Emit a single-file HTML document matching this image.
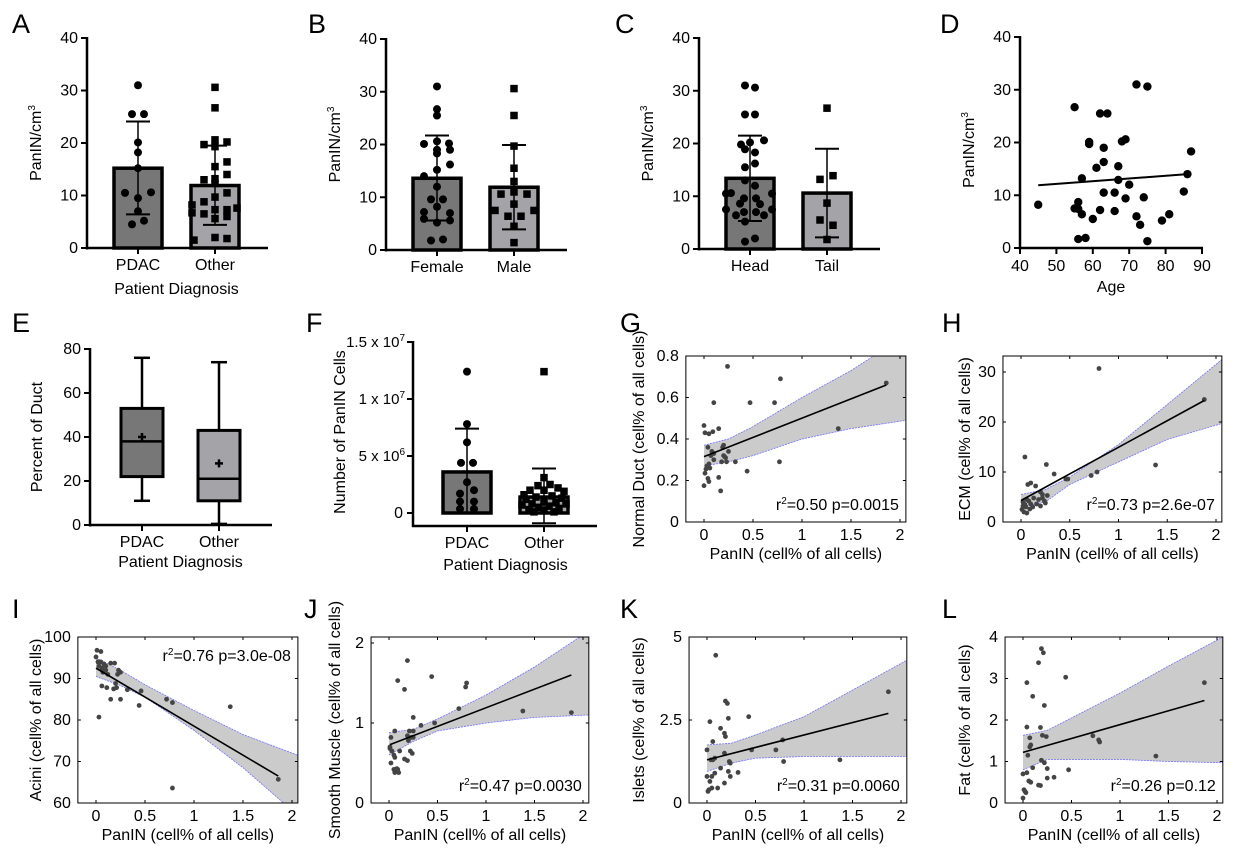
<!DOCTYPE html>
<html><head><meta charset="utf-8"><style>
html,body{margin:0;padding:0;background:#fff;}
svg{display:block;font-family:"Liberation Sans",Arial,sans-serif;}
</style></head><body>
<svg id="fig" width="1236" height="853" viewBox="0 0 1236 853"></svg>
<script>
// ---------- DATA ----------
const A_cats=['PDAC','Other'];
const A_means=[15.2,11.9], A_sdHi=[24.1,19.5], A_sdLo=[6.4,4.4];
const A_g0=[31,25.5,25.5,20.1,18.2,15.2,10.5,10.6,9.5,7,4.5,5.2];
const A_j0=[0,-6,6,0,0,0,-13,13,0,0,-6,6];
const A_g1=[30.6,26.7,20.6,20.2,19.7,19.3,15.5,16.4,14,13,13.2,12.3,10.5,9.7,8.8,8.2,7.6,7.3,7.3,6.7,6.5,5.6,6,1.5,2,1.8];
const A_j1=[0,0,0,12,-11,0,0,12,12,-11,0,0,12,0,-11,-23,22,0,12,-23,-11,0,12,-21,0,12];
const B_cats=['Female','Male'];
const B_means=[13.6,11.9], B_sdHi=[21.7,19.9], B_sdLo=[5.6,3.9];
const B_g0=[31,26.7,25.5,20.6,20.1,20.2,19,19,18.3,16.2,15.2,14,12,9.6,9.6,8.2,7.2,7,5.9,5.6,5.2,1.8,2];
const B_j0=[0,0,0,0,-13,12,13,0,0,13,0,-13,0,-6,6,0,-13,13,-13,13,0,-6,6];
const B_g1=[30.6,25.5,19.7,15.5,13,11,10.6,10.6,8.7,7.5,7.5,6.4,6.4,4.5,1.4];
const B_j1=[0,0,0,0,0,0,-13,13,0,-19,20,-6,7,0,0];
const C_cats=['Head','Tail'];
const C_means=[13.4,10.6], C_sdHi=[21.5,19], C_sdLo=[5.3,2.2];
const C_g0=[31,30.6,25.5,25.5,20.6,20.2,19.8,18.9,18.3,16.2,15.5,13,12,10.6,10.5,10.5,9.6,9.6,8.6,8.5,7.5,7.5,7,7,6.4,6.4,5.2,2,1.4];
const C_j0=[-5,5,-5,5,14,0,-9,-5,5,5,-5,-5,5,-19,-24,22,-6,6,-10,10,-24,22,-6,6,-14,14,-5,5,-5];
const C_g1=[26.7,13.9,13.2,8.7,5.5,4.5,1.8];
const C_j1=[0,6,-7,0,-7,6,0];
const D_age=[45,55,55,56,56,56,57,57,58,59,59,60,61,62,62,63,63,63,64,66,66,67,67,68,69,69,70,72,72,73,74,75,75,79,81,85,86,87];
const D_val=[8.2,26.7,7.5,7.4,8.7,1.7,13.2,6.4,1.9,20.1,19.7,5.5,15.2,25.5,7.2,19,16.3,10.5,25.5,10.5,7,15.5,12.9,20.2,20.6,9.4,12,31,6,4.4,9.6,30.6,1.3,5.2,6.4,10.7,14,18.3];
const D_fitX=[45,86], D_fitY=[11.9,14];
const E_cats=['PDAC','Other'];
const E_min=[11,0.5], E_q1=[22,11], E_med=[38,21], E_q3=[53,43], E_max=[76,74], E_mean=[40,28];
const F_cats=['PDAC','Other'];
const F_means=[3.6e6,1.4e6], F_sdHi=[7.4e6,3.9e6], F_sdLo=[0,-0.9e6];
const F_g0=[12.4e6,7.8e6,6.2e6,4.4e6,4.4e6,2.7e6,1.7e6,2e6,1.0e6,1.0e6,0.35e6,0.35e6];
const F_j0=[0,0,0,-6,6,0,-7,7,-7,7,-7,7];
const F_g1=[12.4e6,3.1e6,2.5e6,2.4e6,2.2e6,2.0e6,2.0e6,1.9e6,1.6e6,1.5e6,1.4e6,1.3e6,1.2e6,1.0e6,0.9e6,0.8e6,0.8e6,0.7e6,0.6e6,0.5e6,0.4e6,0.3e6,0.2e6,0.1e6,0.1e6];
const F_j1=[0,0,6,-6,14,-14,0,20,-20,8,-8,18,-18,0,12,-12,22,-22,5,-5,15,-15,0,10,-10];
const CI_x=[0,0.25,0.5,1,1.5,2.06];
const G_x=[0,0.01,0.05,0.09,0.15,0.1,0.24,0.47,0.72,0.78,1.37,1.86,0.04,0.08,0.2,0.19,0.25,0.2,0.22,0.07,0.05,0.03,0.06,0.02,0.1,0.18,0.23,0.32,0.77,0.44,0.01,0.04,0.05,0.15,0.17,0,0.1,0.21];
const G_y=[0.465,0.43,0.425,0.435,0.45,0.575,0.75,0.575,0.575,0.69,0.45,0.67,0.36,0.34,0.37,0.36,0.34,0.32,0.31,0.32,0.28,0.27,0.26,0.255,0.3,0.29,0.29,0.29,0.29,0.245,0.235,0.21,0.195,0.215,0.15,0.175,0.33,0.315];
const G_fitX=[0,1.86], G_fitY=[0.315,0.66];
const G_up=[0.37,0.40,0.46,0.6,0.73,0.9], G_lo=[0.27,0.29,0.32,0.40,0.45,0.49];
const H_x=[0.04,0.26,0.34,0.8,1.38,1.88,0.72,0.78,0.46,0.48,0.07,0.1,0.15,0.2,0.22,0.27,0.02,0.04,0.06,0.08,0.1,0.12,0.16,0.2,0.25,0.01,0.03,0.06,0.09,0.18,0.24,0.05,0.02,0.13,0.22];
const H_y=[13,11.5,9.6,30.7,11.4,24.5,9.3,10,8.6,8.6,7.5,7.8,7.2,6,5.5,5.3,4,3.5,4.5,4.2,3.6,3,3.6,3.2,3.8,2.5,2,1.8,2.6,4.5,4.2,3,3.2,4.8,4.8];
const H_fitX=[0,1.88], H_fitY=[4.3,24.3];
const H_up=[5.5,6.5,9,15.5,23.5,32.5], H_lo=[3,4,7.5,12,16.5,19.7];
const I_x=[0.01,0.05,0,0.02,0.05,0.08,0.1,0.15,0.19,0.03,0.06,0.1,0.12,0.22,0.23,0.25,0.07,0.2,0.06,0.11,0.18,0.21,0.32,0.46,0.15,0.25,0.44,0.72,0.78,1.37,0.03,0.78,1.86];
const I_y=[96.8,96.5,95.2,94,94,93.5,93,93.7,93.7,93,92.5,92,91,91,92,91.5,91.5,88.8,88.2,87.8,87.5,87.8,87.3,87,85,85,83.5,85,84.2,83.2,80.7,63.6,65.7];
const I_fitX=[0,1.86], I_fitY=[92.5,66.5];
const I_up=[95,92,88.5,82.3,76.5,71.5], I_lo=[90.5,88.3,85.5,77.5,68.5,57];
const J_x=[0.19,0.09,0.16,0.44,0.8,0.79,0.72,1.38,1.88,0.25,0.33,0.47,0.21,0.25,0.06,0.02,0.19,0.2,0.25,0.23,0.01,0.01,0.03,0.11,0.22,0.24,0.05,0.06,0.16,0.19,0.02,0.05,0.07,0.09,0.06,0.1,0.08];
const J_y=[1.78,1.53,1.42,1.58,1.5,1.45,1.18,1.15,1.13,1.07,0.97,1.0,0.9,0.9,0.9,0.82,0.84,0.78,0.82,0.82,0.7,0.68,0.65,0.65,0.65,0.62,0.6,0.57,0.55,0.53,0.5,0.42,0.4,0.42,0.38,0.38,0.43];
const J_fitX=[0.01,1.88], J_fitY=[0.73,1.6];
const J_up=[0.88,0.92,1.05,1.35,1.7,2.15], J_lo=[0.6,0.77,0.9,1.0,1.07,1.1];
const K_x=[0.09,0.19,0.21,1.87,0.43,0.22,0.03,0.14,0.18,0.19,0.78,0.06,0,0.46,0.71,0.18,0.04,0.06,0.08,1.37,0.79,0.23,0.24,0.14,0.08,0.22,0.32,0,0.05,0.24,0.03,0.18,0.05,0.11,0.01,0.02];
const K_y=[4.45,3.07,3.0,3.35,2.6,2.55,2.45,2.25,2.1,2.0,1.9,1.85,1.6,1.6,1.6,1.5,1.3,1.3,1.35,1.3,1.25,1.25,1.2,1.05,0.9,0.95,0.92,0.8,0.8,0.8,0.65,0.6,0.45,0.45,0.35,0.4];
const K_fitX=[0,1.87], K_fitY=[1.3,2.7];
const K_up=[1.75,1.8,2.05,2.6,3.4,4.3], K_lo=[0.95,1.2,1.35,1.4,1.4,1.4];
const L_x=[0.19,0.21,0.16,0.44,0.04,1.87,0.1,0.22,0.04,0.18,0.2,0.24,0.72,0.78,0.79,0.07,0.08,0.07,0.05,1.37,0.19,0.22,0.1,0.25,0.47,0.04,0,0.25,0.32,0.06,0.08,0.16,0.18,0.01,0.02,0.03,0];
const L_y=[3.72,3.62,3.38,3.03,2.9,2.9,2.57,2.35,1.83,1.82,1.63,1.6,1.62,1.52,1.47,1.57,1.4,1.35,1.15,1.13,1.03,0.97,0.85,0.83,0.8,0.73,0.7,0.6,0.62,0.53,0.5,0.43,0.42,0.32,0.28,0.25,0.12];
const L_fitX=[0,1.87], L_fitY=[1.22,2.47];
const L_up=[1.63,1.75,2.05,2.65,3.3,4.0], L_lo=[0.8,1.05,1.05,1.05,1.0,0.97];

// ---------- HELPERS ----------
const svg=document.getElementById('fig');
const NS=svg.namespaceURI;
function el(tag,parent){const e=document.createElementNS(NS,tag);parent.appendChild(e);return e;}
function set(e,o){for(const k in o)e.setAttribute(k,o[k]);return e;}
function lin(d0,d1,r0,r1){return v=>r0+(v-d0)*(r1-r0)/(d1-d0);}
function line(p,x1,y1,x2,y2,w,name){const l=el('line',p);set(l,{x1:x1,y1:y1,x2:x2,y2:y2,stroke:'#000','stroke-width':w});


return l;}
function text(p,x,y,s,size,anchor,name,rot){const t=el('text',p);set(t,{x:x,y:y,'font-size':size,'text-anchor':anchor||'middle',fill:'#000'});
if(rot)t.setAttribute('transform','rotate(-90 '+x+' '+y+')');
t.textContent=s;


return t;}
function letter(x,y,s){text(svg,x,y,s,27,'start','panel-label-'+s.toLowerCase());}
function group(name){const g=el('g',svg);


return g;}
function dot(p,x,y,r,fill,name){const c=el('circle',p);set(c,{cx:x,cy:y,r:r,fill:fill});


return c;}
function sq(p,x,y,s,name){const r=el('rect',p);set(r,{x:x-s/2,y:y-s/2,width:s,height:s,fill:'#000'});


return r;}
function supLabel(p,x,y,base,exp,name){const t=el('text',p);set(t,{x:x,y:y,'font-size':15,'text-anchor':'end'});
const a=el('tspan',t);a.textContent=base;
const b=el('tspan',t);set(b,{'font-size':10,dy:-6});b.textContent=exp;

}

// GraphPad-style y axis
function gpYAxis(g,ax,ytop,ybot,sc,ticks,labels,name){
  line(g,ax,ytop-1,ax,ybot+1.5,2.5,name+'-y-axis');
  ticks.forEach((v,i)=>{const y=sc(v);line(g,ax-6,y,ax,y,2,name+'-y-tick');
    if(labels)text(g,ax-9,y+5,labels[i],16,'end',name+'-y-tick-label');});
}

function barPanel(name,ax,xEnd,y0,y40,cats,means,hi,lo,g0,j0,g1,j1,ymax,ticks,ylabel,xlabel,labY){
  const g=group('panel-'+name);
  const ys=lin(0,ymax,y0,y40);
  const cx=[ax+51,ax+128];
  const fills=['#777777','#a4a4a8'];
  means.forEach((m,i)=>{const r=el('rect',g);set(r,{x:cx[i]-24,y:ys(m),width:48,height:y0-ys(m),fill:fills[i],stroke:'#000','stroke-width':3.5});
    
    });
  [[g0,j0,0],[g1,j1,1]].forEach(([vals,jit,i])=>{vals.forEach((v,k)=>{
    if(i===0)dot(g,cx[i]+jit[k],ys(v),4,'#000','point-'+cats[i].toLowerCase());
    else sq(g,cx[i]+jit[k],ys(v),7.5,'point-'+cats[i].toLowerCase());});});
  means.forEach((m,i)=>{line(g,cx[i],ys(hi[i]),cx[i],ys(lo[i]),1.5,'error-bar');
    line(g,cx[i]-12,ys(hi[i]),cx[i]+12,ys(hi[i]),2,'error-cap-upper');
    line(g,cx[i]-12,ys(lo[i]),cx[i]+12,ys(lo[i]),2,'error-cap-lower');});
  gpYAxis(g,ax,y40,y0,ys,ticks,ticks.map(String),name);
  line(g,ax-1,y0,xEnd,y0,2.5,name+'-x-axis');
  cats.forEach((c,i)=>{line(g,cx[i],y0,cx[i],y0+6,2,'x-tick');text(g,cx[i],y0+22,c,16,'middle','x-tick-label-'+c.toLowerCase());});
  text(g,ax-46,150,'',16,'middle','y-axis-title',true);
  const yt=el('text',g);set(yt,{x:ax-46,y:(y0+y40)/2,'font-size':16,'text-anchor':'middle',transform:'rotate(-90 '+(ax-46)+' '+((y0+y40)/2)+')'});
  const t1=el('tspan',yt);t1.textContent='PanIN/cm';const t2=el('tspan',yt);set(t2,{'font-size':10,dy:-6});t2.textContent='3';
  
  
  if(xlabel)text(g,(cx[0]+cx[1])/2,labY,xlabel,16,'middle','x-axis-title');
}

// ---------- ROW 1 ----------
letter(12,33,'A');letter(308,33,'B');letter(615,33,'C');letter(940,33,'D');
barPanel('a',87,268,248,38,A_cats,A_means,A_sdHi,A_sdLo,A_g0,A_j0,A_g1,A_j1,40,[0,10,20,30,40],'', 'Patient Diagnosis',294);
barPanel('b',386,567,250,39,B_cats,B_means,B_sdHi,B_sdLo,B_g0,B_j0,B_g1,B_j1,40,[0,10,20,30,40],'',null,0);
barPanel('c',699,880,249,38,C_cats,C_means,C_sdHi,C_sdLo,C_g0,C_j0,C_g1,C_j1,40,[0,10,20,30,40],'',null,0);

// Panel D
(function(){
  const g=group('panel-d');const ax=1020,y0=248,ytop=37;
  const xs=lin(40,90,ax,1202), ys=lin(0,40,y0,ytop);
  gpYAxis(g,ax,ytop,y0,ys,[0,10,20,30,40],['0','10','20','30','40'],'d');
  line(g,ax-1,y0,1203,y0,2.5,'d-x-axis');
  [40,50,60,70,80,90].forEach(v=>{line(g,xs(v),y0,xs(v),y0+6,2,'x-tick');text(g,xs(v),y0+23,String(v),16,'middle','x-tick-label');});
  D_age.forEach((a,i)=>dot(g,xs(a),ys(D_val[i]),4.2,'#000','point-patient'));
  line(g,xs(D_fitX[0]),ys(D_fitY[0]),xs(D_fitX[1]),ys(D_fitY[1]),2,'regression-line');
  text(g,(ax+1202)/2,292,'Age',16,'middle','x-axis-title');
  const yt=el('text',g);set(yt,{x:974,y:150,'font-size':16,'text-anchor':'middle',transform:'rotate(-90 974 150)'});
  const t1=el('tspan',yt);t1.textContent='PanIN/cm';const t2=el('tspan',yt);set(t2,{'font-size':10,dy:-6});t2.textContent='3';
  
  
})();

// ---------- ROW 2 ----------
letter(12,332,'E');letter(306,332,'F');letter(620,332,'G');letter(942,332,'H');
// Panel E
(function(){
  const g=group('panel-e');const ax=90,y0=525,ytop=349;
  const ys=lin(0,80,y0,ytop);const cx=[ax+52,ax+129];const fills=['#777777','#a4a4a8'];
  gpYAxis(g,ax,ytop,y0,ys,[0,20,40,60,80],['0','20','40','60','80'],'e');
  line(g,ax-1,y0,272,y0,2.5,'e-x-axis');
  E_cats.forEach((c,i)=>{
    line(g,cx[i],ys(E_max[i]),cx[i],ys(E_q3[i]),2.5,'whisker-upper');
    line(g,cx[i],ys(E_q1[i]),cx[i],ys(E_min[i]),2.5,'whisker-lower');
    line(g,cx[i]-8,ys(E_max[i]),cx[i]+8,ys(E_max[i]),2.5,'whisker-cap');
    line(g,cx[i]-8,ys(E_min[i]),cx[i]+8,ys(E_min[i]),2.5,'whisker-cap');
    const r=el('rect',g);set(r,{x:cx[i]-21,y:ys(E_q3[i]),width:42,height:ys(E_q1[i])-ys(E_q3[i]),fill:fills[i],stroke:'#000','stroke-width':3});
    
    
    line(g,cx[i]-21,ys(E_med[i]),cx[i]+21,ys(E_med[i]),2.5,'median-line');
    line(g,cx[i]-4,ys(E_mean[i]),cx[i]+4,ys(E_mean[i]),2.5,'mean-marker');
    line(g,cx[i],ys(E_mean[i])-4,cx[i],ys(E_mean[i])+4,2.5,'mean-marker');
    line(g,cx[i],y0,cx[i],y0+6,2,'x-tick');
    text(g,cx[i],y0+22,c,16,'middle','x-tick-label');
  });
  text(g,(cx[0]+cx[1])/2,567,'Patient Diagnosis',16,'middle','x-axis-title');
  text(g,42,437,'Percent of Duct',16,'middle','y-axis-title',true);
})();
// Panel F
(function(){
  const g=group('panel-f');const ax=413,y0=513,ytop=342,xaxY=526;
  const ys=lin(0,1.5e7,y0,ytop);const cx=[ax+54,ax+131];const fills=['#777777','#a4a4a8'];
  line(g,ax,ytop-1,ax,xaxY+1,2.5,'f-y-axis');
  [0,5e6,1e7,1.5e7].forEach(v=>line(g,ax-6,ys(v),ax,ys(v),2,'f-y-tick'));
  text(g,ax-10,y0+5,'0',16,'end','y-tick-label');
  supLabel(g,ax-8,ys(5e6)+5,'5 x 10','6','y-tick-label');
  supLabel(g,ax-8,ys(1e7)+5,'1 x 10','7','y-tick-label');
  supLabel(g,ax-8,ys(1.5e7)+5,'1.5 x 10','7','y-tick-label');
  line(g,ax-1,xaxY,597,xaxY,2.5,'f-x-axis');
  F_means.forEach((m,i)=>{const r=el('rect',g);set(r,{x:cx[i]-24,y:ys(m),width:48,height:y0-ys(m),fill:fills[i],stroke:'#000','stroke-width':3.5});
    
    });
  F_g0.forEach((v,k)=>dot(g,cx[0]+F_j0[k],ys(v),4,'#000','point-pdac'));
  F_g1.forEach((v,k)=>sq(g,cx[1]+F_j1[k],ys(v),7.5,'point-other'));
  F_means.forEach((m,i)=>{line(g,cx[i],ys(F_sdHi[i]),cx[i],ys(F_sdLo[i]),1.5,'error-bar');
    line(g,cx[i]-12,ys(F_sdHi[i]),cx[i]+12,ys(F_sdHi[i]),2,'error-cap');
    line(g,cx[i]-12,ys(F_sdLo[i]),cx[i]+12,ys(F_sdLo[i]),2,'error-cap');
    line(g,cx[i],xaxY,cx[i],xaxY+6,2,'x-tick');
    text(g,cx[i],548,F_cats[i],16,'middle','x-tick-label');});
  text(g,(cx[0]+cx[1])/2,570,'Patient Diagnosis',16,'middle','x-axis-title');
  text(g,345,432,'Number of PanIN Cells',16,'middle','y-axis-title',true);
})();

// MATLAB-style scatter panels
let clipN=0;
function scatterPanel(name,x0px,x2px,top,bot,ymin,ymax,yticks,ylabels,xs_,ys_,fitX,fitY,up,lo,ylabel,ylabX,stat,statTop){
  const g=group('panel-'+name);
  const xs=lin(0,2,x0px,x2px);const L=xs(-0.185),R=xs(2.06);
  const ys=lin(ymin,ymax,bot,top);
  const id='clip'+(clipN++);
  const cp=el('clipPath',g);cp.setAttribute('id',id);
  const cr=el('rect',cp);set(cr,{x:L,y:top,width:R-L,height:bot-top});
  const band=el('g',g);band.setAttribute('clip-path','url(#'+id+')');
  
  
  let pts=CI_x.map((x,i)=>xs(x)+','+ys(up[i]));
  pts=pts.concat(CI_x.slice().reverse().map((x,i)=>xs(x)+','+ys(lo[lo.length-1-i])));
  const poly=el('polygon',band);set(poly,{points:pts.join(' '),fill:'#cbcbcb',stroke:'none'});
  
  
  [up,lo].forEach(arr=>{const pl=el('polyline',band);set(pl,{points:CI_x.map((x,i)=>xs(x)+','+ys(arr[i])).join(' '),fill:'none',stroke:'#7070ff','stroke-width':0.8,'stroke-dasharray':'2 1'});
    
    });
  xs_.forEach((x,i)=>dot(band,xs(x),ys(ys_[i]),2.4,'#444','point-sample'));
  line(band,xs(fitX[0]),ys(fitY[0]),xs(fitX[1]),ys(fitY[1]),1.6,'regression-line');
  const box=el('rect',g);set(box,{x:L,y:top,width:R-L,height:bot-top,fill:'none',stroke:'#000','stroke-width':1});
  
  
  [0,0.5,1,1.5,2].forEach(v=>{const x=xs(v);line(g,x,bot,x,bot-3,1,'x-tick');line(g,x,top,x,top+3,1,'x-tick');
    text(g,x,bot+18,String(v),16,'middle','x-tick-label');});
  yticks.forEach((v,i)=>{const y=ys(v);line(g,L,y,L+3,y,1,'y-tick');line(g,R,y,R-3,y,1,'y-tick');
    text(g,L-7,y+5,ylabels[i],16,'end','y-tick-label');});
  text(g,(L+R)/2,bot+37,'PanIN (cell% of all cells)',16,'middle','x-axis-title');
  text(g,ylabX,(top+bot)/2,ylabel,16,'middle','y-axis-title',true);
  const st=el('text',g);set(st,{x:R-7,y:statTop?top+24:bot-12,'font-size':16,'text-anchor':'end'});
  const s1=el('tspan',st);s1.textContent='r';const s2=el('tspan',st);set(s2,{'font-size':10,dy:-6});s2.textContent='2';
  const s3=el('tspan',st);s3.setAttribute('dy',6);s3.textContent=stat;
  
  
}
scatterPanel('g',704,900,356,522,0,0.8,[0,0.2,0.4,0.6,0.8],['0','0.2','0.4','0.6','0.8'],G_x,G_y,G_fitX,G_fitY,G_up,G_lo,'Normal Duct (cell% of all cells)',644,'=0.50 p=0.0015',false);
scatterPanel('h',1021,1216,356,522,0,33.2,[0,10,20,30],['0','10','20','30'],H_x,H_y,H_fitX,H_fitY,H_up,H_lo,'ECM (cell% of all cells)',970,'=0.73  p=2.6e-07',false);

// ---------- ROW 3 ----------
letter(12,618,'I');letter(304,618,'J');letter(620,618,'K');letter(942,618,'L');
scatterPanel('i',96,292,637,803,60,100,[60,70,80,90,100],['60','70','80','90','100'],I_x,I_y,I_fitX,I_fitY,I_up,I_lo,'Acini (cell% of all cells)',41,'=0.76  p=3.0e-08',true);
scatterPanel('j',389,583,637,803,0,2.075,[0,1,2],['0','1','2'],J_x,J_y,J_fitX,J_fitY,J_up,J_lo,'Smooth Muscle (cell% of all cells)',340,'=0.47  p=0.0030',false);
scatterPanel('k',707,901,637,803,0,5,[0,2.5,5],['0','2.5','5'],K_x,K_y,K_fitX,K_fitY,K_up,K_lo,'Islets (cell% of all cells)',644,'=0.31  p=0.0060',false);
scatterPanel('l',1023,1217,637,803,0,4,[0,1,2,3,4],['0','1','2','3','4'],L_x,L_y,L_fitX,L_fitY,L_up,L_lo,'Fat (cell% of all cells)',970,'=0.26  p=0.12',false);
</script>
</body></html>
